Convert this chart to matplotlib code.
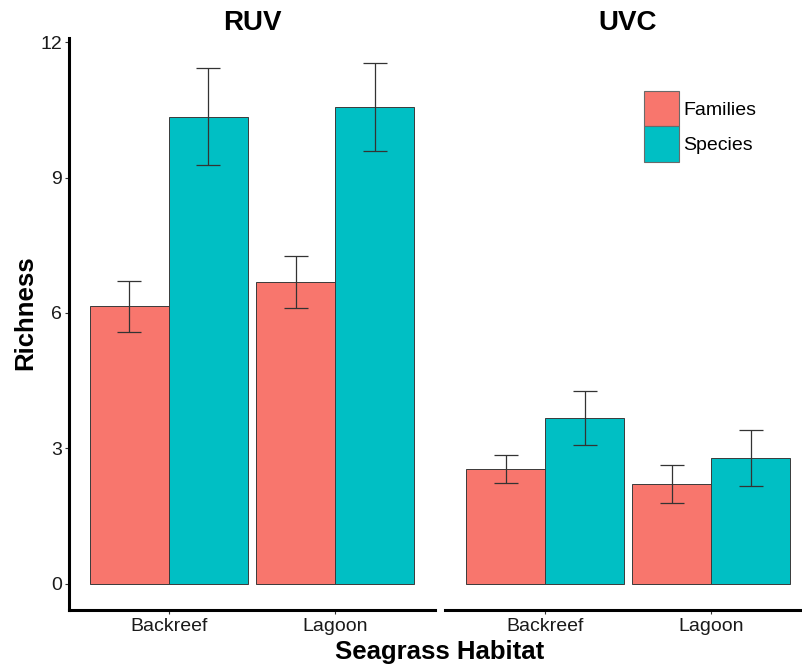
import matplotlib
matplotlib.use("Agg")
import matplotlib.pyplot as plt
import numpy as np
from matplotlib.patches import Patch

HABITATS = ["Backreef", "Lagoon"]
METHODS = ["RUV", "UVC"]
GROUPS = ["Families", "Species"]

ruv_families = [6.15, 6.69]
ruv_species = [10.35, 10.56]
uvc_families = [2.54, 2.21]
uvc_species = [3.68, 2.78]

ruv_families_se = [0.565, 0.57]
ruv_species_se = [1.075, 0.97]
uvc_families_se = [0.31, 0.43]
uvc_species_se = [0.60, 0.62]

COLORS = {"Families": "#F8766D", "Species": "#00BFC4"}
FONT = "Liberation Sans"


def draw_panel(ax, title, families, species, fam_se, sp_se, show_y):
    x = np.arange(1, len(HABITATS) + 1)
    w = 0.475
    for offset, vals, errs, name in [(-w / 2, families, fam_se, "Families"),
                                     (w / 2, species, sp_se, "Species")]:
        ax.bar(x + offset, vals, width=w, color=COLORS[name],
               edgecolor="#3a3a3a", linewidth=0.7, zorder=2)
        ax.errorbar(x + offset, vals, yerr=errs, fmt="none", ecolor="#333333",
                    elinewidth=0.9, capsize=8.5, capthick=0.9, zorder=3)

    ax.set_xlim(0.4, 2.6)
    ax.set_ylim(-0.58, 12.09)
    ax.set_xticks(x)
    ax.set_xticklabels(HABITATS, fontsize=14, family=FONT, color="#1a1a1a")
    ax.set_title(title, fontsize=20, fontweight="bold", family=FONT, pad=6)
    for spine in ["top", "right"]:
        ax.spines[spine].set_visible(False)
    ax.spines["bottom"].set_linewidth(2.2)
    ax.tick_params(axis="x", length=3, width=0.8, color="#333333", pad=3)
    if show_y:
        ax.spines["left"].set_linewidth(2.2)
        ax.set_yticks([0, 3, 6, 9, 12])
        ax.set_yticklabels(["0", "3", "6", "9", "12"], fontsize=14,
                           family=FONT, color="#1a1a1a")
        ax.tick_params(axis="y", length=3, width=0.8, color="#333333", pad=2)
    else:
        ax.spines["left"].set_visible(False)
        ax.set_yticks([])


def main():
    fig = plt.figure(figsize=(8.02, 6.67), dpi=100)
    ax1 = fig.add_axes([69 / 802, 57 / 667, 366 / 802, 572 / 667])
    ax2 = fig.add_axes([445.4 / 802, 57 / 667, 365.4 / 802, 572 / 667])

    draw_panel(ax1, METHODS[0], ruv_families, ruv_species,
               ruv_families_se, ruv_species_se, True)
    draw_panel(ax2, METHODS[1], uvc_families, uvc_species,
               uvc_families_se, uvc_species_se, False)

    fig.text(25 / 802, 1 - 313 / 667, "Richness", rotation=90, ha="center",
             va="center", fontsize=18.5, fontweight="bold", family=FONT)
    fig.text(440 / 802, 1 - 652 / 667, "Seagrass Habitat", ha="center",
             va="center", fontsize=18.5, fontweight="bold", family=FONT)

    handles = [Patch(facecolor=COLORS[g], edgecolor="#6a6a6a", linewidth=0.8)
               for g in GROUPS]
    fig.legend(handles, GROUPS, loc="upper left",
               bbox_to_anchor=(644 / 802, 1 - 91 / 667), frameon=False,
               prop={"family": FONT, "size": 14}, handlelength=1.8,
               handleheight=2.42, labelspacing=0.0, handletextpad=0.2,
               borderpad=0, borderaxespad=0)

    fig.savefig("out.png", dpi=100)
    plt.close(fig)


if __name__ == "__main__":
    main()
